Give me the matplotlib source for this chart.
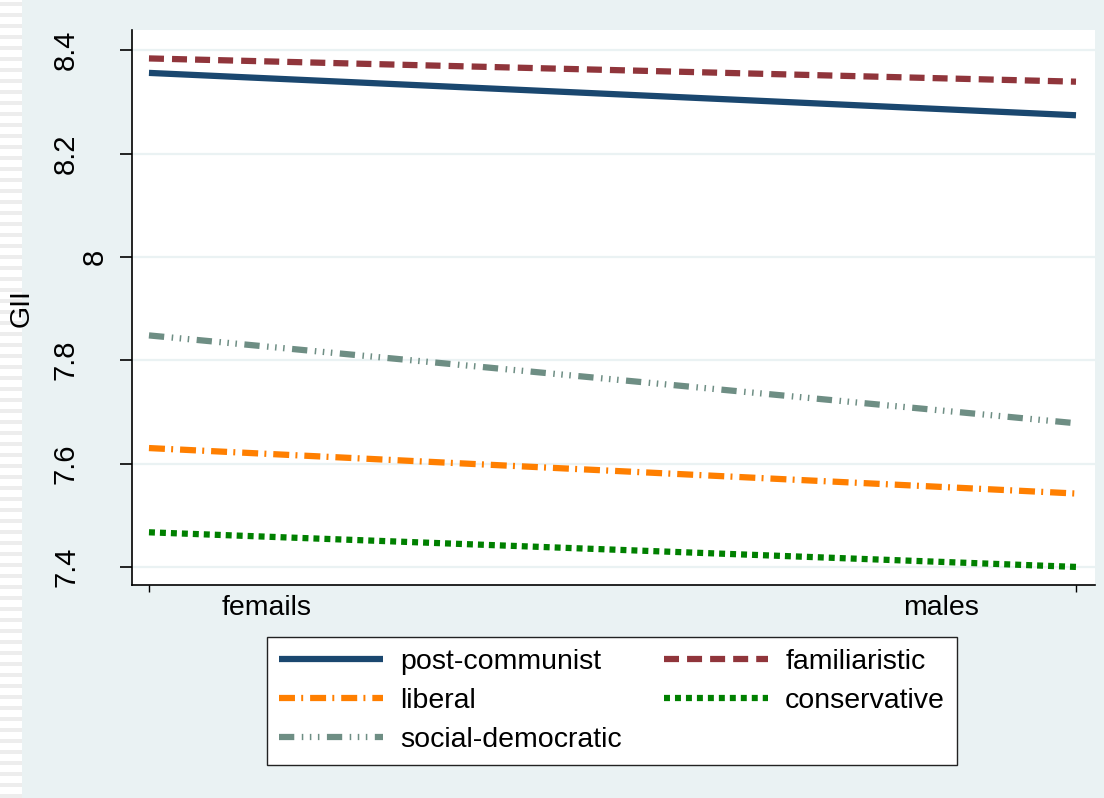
import matplotlib
matplotlib.use("Agg")
import matplotlib.pyplot as plt
import matplotlib.transforms as mtransforms
from matplotlib.patches import Rectangle

plt.rcParams['font.family'] = ['Liberation Sans', 'DejaVu Sans']
plt.rcParams['lines.scale_dashes'] = False

# ---- data -------------------------------------------------------------
groups = ["femails", "males"]
post_communist = [8.356, 8.274]
familiaristic = [8.384, 8.339]
liberal = [7.630, 7.542]
conservative = [7.467, 7.400]
social_democratic = [7.848, 7.678]
y_ticks = [7.4, 7.6, 7.8, 8.0, 8.2, 8.4]
y_tick_labels = ["7.4", "7.6", "7.8", "8", "8.2", "8.4"]
y_title = "GII"

# ---- styling ----------------------------------------------------------
BG = "#EAF2F3"
LW = 4.5
FS = 20.5
series = [
    ("post-communist", post_communist, "#1A476F", "-"),
    ("liberal", liberal, "#FF7F00", (0, (11.5, 4.5, 1.4, 5.0))),
    ("social-democratic", social_democratic, "#6E8E84",
     (0, (11.0, 5.4, 1.1, 4.7, 1.1, 4.7, 1.1, 5.4))),
    ("familiaristic", familiaristic, "#90353B", (0, (10.8, 5.8))),
    ("conservative", conservative, "#008000", (0, (4.3, 3.6))),
]

W, H = 1104, 798
fig = plt.figure(figsize=(W / 100, H / 100), dpi=100, facecolor=BG)

# light striped band along the left edge
fig.patches.append(Rectangle((0, 0), 22 / W, 1, transform=fig.transFigure,
                             facecolor="white", edgecolor="none", zorder=-5))
y = 2
while y < H:
    fig.patches.append(Rectangle((0, 1 - (y + 4) / H), 22 / W, 4 / H,
                                 transform=fig.transFigure,
                                 facecolor="#EDEDED", edgecolor="none", zorder=-4))
    y += 11

ax_l, ax_r, ax_t, ax_b = 132, 1095, 30, 585
ax = fig.add_axes([ax_l / W, 1 - ax_b / H, (ax_r - ax_l) / W, (ax_b - ax_t) / H])
ax.set_facecolor("white")

x = list(range(len(groups)))
handles = []
for name, vals, color, ls in series:
    ln, = ax.plot(x, vals, color=color, lw=LW, linestyle=ls,
                  solid_capstyle="butt", dash_capstyle="butt", label=name)
    handles.append(ln)

ax.set_xlim(-0.0183, 1.0205)
ax.set_ylim(7.365, 8.439)

ax.set_yticks(y_ticks)
ax.set_yticklabels(y_tick_labels, rotation=90, va="center", ha="right", fontsize=21)
ax.grid(axis="y", color=BG, lw=1.6)
ax.set_axisbelow(True)

ax.set_xticks(x)
ax.set_xticklabels(groups, fontsize=FS)

for s in ["top", "right"]:
    ax.spines[s].set_visible(False)
for s in ["left", "bottom"]:
    ax.spines[s].set_color("black")
    ax.spines[s].set_linewidth(1.2)

ax.tick_params(axis="y", length=8.6, width=1.2, pad=7.9, colors="black")
ax.tick_params(axis="x", length=5, width=1.0, pad=2, colors="black")

# x labels sit beside their ticks, as in the original graph style
x_shift = [1.18, -1.35]
for lab, dx in zip(ax.get_xticklabels(), x_shift):
    lab.set_transform(lab.get_transform() +
                      mtransforms.ScaledTranslation(dx, 0, fig.dpi_scale_trans))

# rotated y labels are pushed out in proportion to their text length
fig.canvas.draw()
renderer = fig.canvas.get_renderer()
ylabs = ax.get_yticklabels()
lens = [lab.get_window_extent(renderer).height for lab in ylabs]
lmin = min(lens)
for lab, ln_ in zip(ylabs, lens):
    dx = -(ln_ - lmin) * 1.2 / 100.0
    lab.set_transform(lab.get_transform() +
                      mtransforms.ScaledTranslation(dx, 0, fig.dpi_scale_trans))

fig.text(22 / W, 1 - 308 / H, y_title, rotation=90, ha="center", va="center",
         fontsize=FS)

leg_l, leg_r, leg_t, leg_b = 267, 957, 637, 765
leg = fig.legend(handles=handles, ncol=2, loc="upper left",
                 bbox_to_anchor=(leg_l / W, 1 - leg_b / H,
                                 (leg_r - leg_l) / W, (leg_b - leg_t) / H),
                 bbox_transform=fig.transFigure, mode="expand",
                 borderaxespad=0, fontsize=FS, frameon=True, fancybox=False,
                 handlelength=3.65, handletextpad=0.62, labelspacing=0.45,
                 borderpad=0.42, columnspacing=1.7)
leg.get_frame().set_edgecolor("#222222")
leg.get_frame().set_linewidth(1.0)
leg.get_frame().set_facecolor("white")
leg.get_frame().set_alpha(1)

fig.savefig("out.png", dpi=100, facecolor=BG)
